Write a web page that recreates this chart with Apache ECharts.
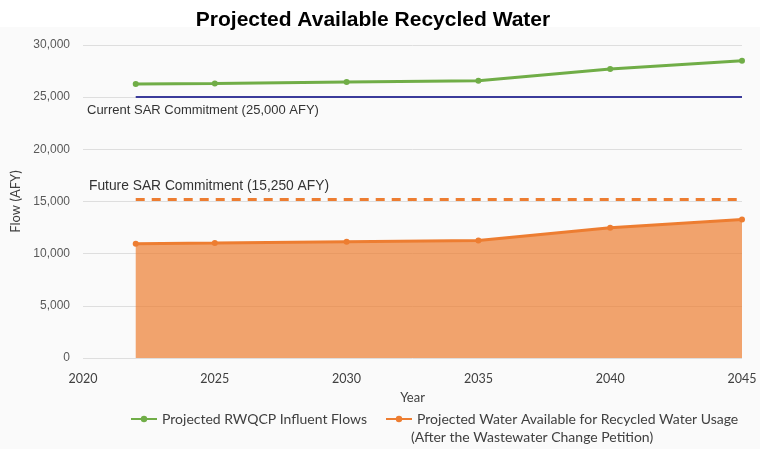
<!DOCTYPE html>
<html><head><meta charset="utf-8">
<script src="https://cdn.jsdelivr.net/npm/echarts@6/dist/echarts.min.js"></script>
<style>html,body{margin:0;padding:0;background:#fafafa}#c{width:760px;height:449px}</style>
</head><body><div id="c"></div>
<script>
const years = [2022, 2025, 2030, 2035, 2040, 2045];
const influentFlows = [26260, 26320, 26450, 26580, 27700, 28500];
const availableRecycled = [10960, 11020, 11150, 11270, 12490, 13280];
const currentCommitment = 25000;
const futureCommitment = 15250;
const yTicks = [0, 5000, 10000, 15000, 20000, 25000, 30000];
const xTicks = [2020, 2025, 2030, 2035, 2040, 2045];

const chart = echarts.init(document.getElementById('c'));
const pair = (xs, ys) => xs.map((x, i) => [x, ys[i]]);
const calibri = 'Lato, "Open Sans", sans-serif';
chart.setOption({
  backgroundColor: '#fafafa',
  animation: false,
  title: {
    text: 'Projected Available Recycled Water',
    left: 368, top: 5, textAlign: 'center',
    textStyle: { fontFamily: 'Liberation Sans, Arial', fontWeight: 'bold', fontSize: 21, color: '#000' }
  },
  graphic: [
    { type: 'rect', z: -10, shape: { x: 0, y: 0, width: 760, height: 27 }, style: { fill: '#ffffff' } },
    { type: 'text', left: 87, top: 104, style: { text: 'Current SAR Commitment (25,000 AFY)', font: '13px "Liberation Sans", Arial', fill: '#333' } },
    { type: 'text', left: 89, top: 179, style: { text: 'Future SAR Commitment (15,250 AFY)', font: '13.8px "Liberation Sans", Arial', fill: '#333' } },
    { type: 'text', left: 411, top: 430, style: { text: '(After the Wastewater Change Petition)', font: '14px ' + calibri, fill: '#404040' } }
  ],
  grid: { left: 83, right: 18, top: 45, bottom: 91 },
  legend: {
    left: 125, top: 407, itemWidth: 26, itemHeight: 8, itemGap: 18,
    textStyle: { fontFamily: calibri, fontSize: 14, color: '#404040' },
    data: ['Projected RWQCP Influent Flows', 'Projected Water Available for Recycled Water Usage']
  },
  xAxis: {
    type: 'value', min: xTicks[0], max: xTicks[xTicks.length - 1], interval: 5,
    name: 'Year', nameLocation: 'middle', nameGap: 33,
    nameTextStyle: { fontFamily: calibri, fontSize: 13, color: '#404040' },
    axisLine: { show: false }, axisTick: { show: false }, splitLine: { show: false },
    axisLabel: { fontFamily: calibri, fontSize: 12.5, color: '#404040', margin: 14, formatter: v => String(v) }
  },
  yAxis: {
    type: 'value', min: yTicks[0], max: yTicks[yTicks.length - 1], interval: 5000,
    name: 'Flow (AFY)', nameLocation: 'middle', nameGap: 60,
    nameTextStyle: { fontFamily: calibri, fontSize: 13, color: '#404040' },
    axisLine: { show: false }, axisTick: { show: false },
    splitLine: { lineStyle: { color: '#dedede', width: 1 } },
    axisLabel: { fontFamily: '"Liberation Sans", Arial', fontSize: 12, color: '#595959', margin: 13,
      formatter: v => v.toLocaleString('en-US') }
  },
  series: [
    {
      name: 'Projected RWQCP Influent Flows', type: 'line',
      data: pair(years, influentFlows),
      color: '#70AD47', symbol: 'circle', symbolSize: 6,
      lineStyle: { width: 3, color: '#70AD47' }, itemStyle: { color: '#70AD47' },
      markLine: {
        silent: true, symbol: 'none', label: { show: false },
        lineStyle: { color: '#3B3B9A', width: 2, type: 'solid' },
        data: [[{ coord: [years[0], currentCommitment] }, { coord: [years[years.length - 1], currentCommitment] }]]
      }
    },
    {
      name: 'Projected Water Available for Recycled Water Usage', type: 'line',
      data: pair(years, availableRecycled),
      color: '#ED7D31', symbol: 'circle', symbolSize: 6,
      lineStyle: { width: 3, color: '#ED7D31' }, itemStyle: { color: '#ED7D31' },
      areaStyle: { color: '#ED7D31', opacity: 0.7 },
      markLine: {
        silent: true, symbol: 'none', label: { show: false },
        lineStyle: { color: '#ED7D31', width: 3, type: [9, 7] },
        data: [[{ coord: [years[0], futureCommitment] }, { coord: [years[years.length - 1], futureCommitment] }]]
      }
    }
  ]
});
</script></body></html>
